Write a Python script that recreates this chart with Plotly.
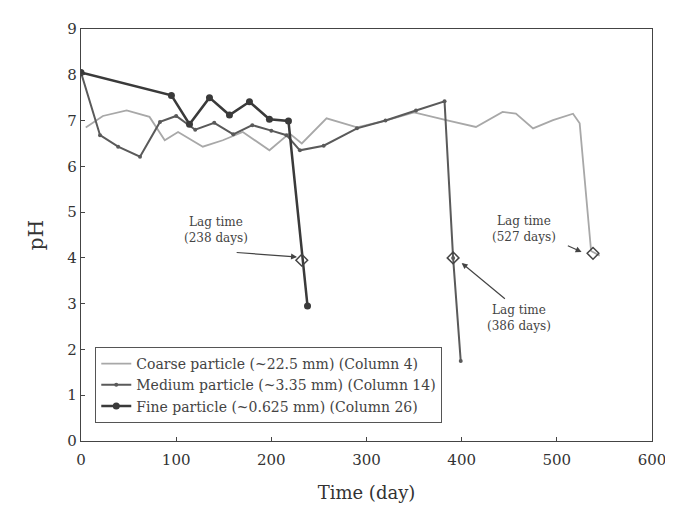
import plotly.graph_objects as go

# Fine particle (~0.625 mm) (Column 26)
fine_days = [0, 95, 114, 135, 156, 177, 198, 218, 238]
fine_ph = [8.05, 7.55, 6.92, 7.5, 7.12, 7.41, 7.03, 6.99, 2.95]

# Medium particle (~3.35 mm) (Column 14)
medium_days = [0, 20, 39, 62, 83, 100, 120, 140, 160, 180, 200, 216, 230, 255, 290, 320, 352, 382, 391, 399]
medium_ph = [8.05, 6.68, 6.43, 6.21, 6.97, 7.1, 6.8, 6.95, 6.7, 6.9, 6.78, 6.68, 6.35, 6.45, 6.83, 7.0, 7.22, 7.42, 4.0, 1.75]

# Coarse particle (~22.5 mm) (Column 4)
coarse_days = [5, 23, 48, 72, 88, 102, 128, 149, 170, 198, 219, 232, 258, 270, 290, 320, 350, 386, 415, 443, 457, 475, 496, 517, 524, 536, 545]
coarse_ph = [6.85, 7.1, 7.22, 7.08, 6.57, 6.75, 6.43, 6.57, 6.75, 6.35, 6.72, 6.5, 7.05, 6.97, 6.85, 7.0, 7.18, 7.0, 6.86, 7.19, 7.15, 6.83, 7.01, 7.15, 6.94, 4.15, 4.05]

# Lag time markers
lag_days = [232, 391, 538]
lag_ph = [3.95, 4.0, 4.1]
lag_labels = ["Lag time<br>(238 days)", "Lag time<br>(386 days)", "Lag time<br>(527 days)"]
lag_text_x = [142, 460, 465]
lag_text_y = [4.6, 2.69, 4.63]
lag_tail_x = [162, 447, 510]
lag_tail_y = [4.12, 3.08, 4.28]
lag_head_x = [227, 400, 526]
lag_head_y = [4.02, 3.89, 4.13]

x_ticks = [0, 100, 200, 300, 400, 500, 600]
y_ticks = [0, 1, 2, 3, 4, 5, 6, 7, 8, 9]

FONT = "DejaVu Serif"

fig = go.Figure()
fig.add_trace(go.Scatter(
    x=coarse_days, y=coarse_ph, mode="lines",
    name="Coarse particle (~22.5 mm) (Column 4)",
    line=dict(color="#a8a8a8", width=1.8)))
fig.add_trace(go.Scatter(
    x=medium_days, y=medium_ph, mode="lines+markers",
    name="Medium particle (~3.35 mm) (Column 14)",
    line=dict(color="#5a5a5a", width=2),
    marker=dict(size=4, color="#5a5a5a")))
fig.add_trace(go.Scatter(
    x=fine_days, y=fine_ph, mode="lines+markers",
    name="Fine particle (~0.625 mm) (Column 26)",
    line=dict(color="#3a3a3a", width=2.5),
    marker=dict(size=7, color="#3a3a3a")))
fig.add_trace(go.Scatter(
    x=lag_days, y=lag_ph, mode="markers", showlegend=False,
    marker=dict(symbol="diamond-open", size=9, color="#444", line=dict(width=1.5))))

for i in range(len(lag_labels)):
    fig.add_annotation(x=lag_text_x[i], y=lag_text_y[i], text=lag_labels[i],
                       showarrow=False, font=dict(family=FONT, size=12, color="#444"))
    fig.add_annotation(x=lag_head_x[i], y=lag_head_y[i], ax=lag_tail_x[i], ay=lag_tail_y[i],
                       axref="x", ayref="y", text="", showarrow=True,
                       arrowhead=2, arrowsize=1, arrowwidth=1.2, arrowcolor="#444")

# page body has an 8px margin, so the figure margins are shifted to keep the plot area in place
fig.update_layout(
    width=673, height=507,
    margin=dict(l=73, r=29, t=21, b=74),
    paper_bgcolor="white", plot_bgcolor="white",
    font=dict(family=FONT, size=15, color="#333"),
    showlegend=True,
    legend=dict(x=0.025, y=0.228, xanchor="left", yanchor="top",
                bgcolor="white", bordercolor="#555", borderwidth=1,
                font=dict(family=FONT, size=14, color="#444"),
                tracegroupgap=0, itemwidth=30),
)
fig.update_xaxes(range=[0, 600], tickvals=x_ticks, showgrid=False, zeroline=False,
                 automargin=False, ticklabelstandoff=5,
                 showline=True, linecolor="#444", linewidth=1.2, mirror=True,
                 ticks="inside", ticklen=4, tickcolor="#444",
                 title=dict(text="Time (day)", font=dict(family=FONT, size=18), standoff=18))
fig.update_yaxes(range=[0, 9], tickvals=y_ticks, showgrid=False, zeroline=False,
                 automargin=False,
                 showline=True, linecolor="#444", linewidth=1.2, mirror=True,
                 ticks="inside", ticklen=4, tickcolor="#444",
                 title=dict(text="pH", font=dict(family=FONT, size=20), standoff=18))

fig.write_html("out.html")
